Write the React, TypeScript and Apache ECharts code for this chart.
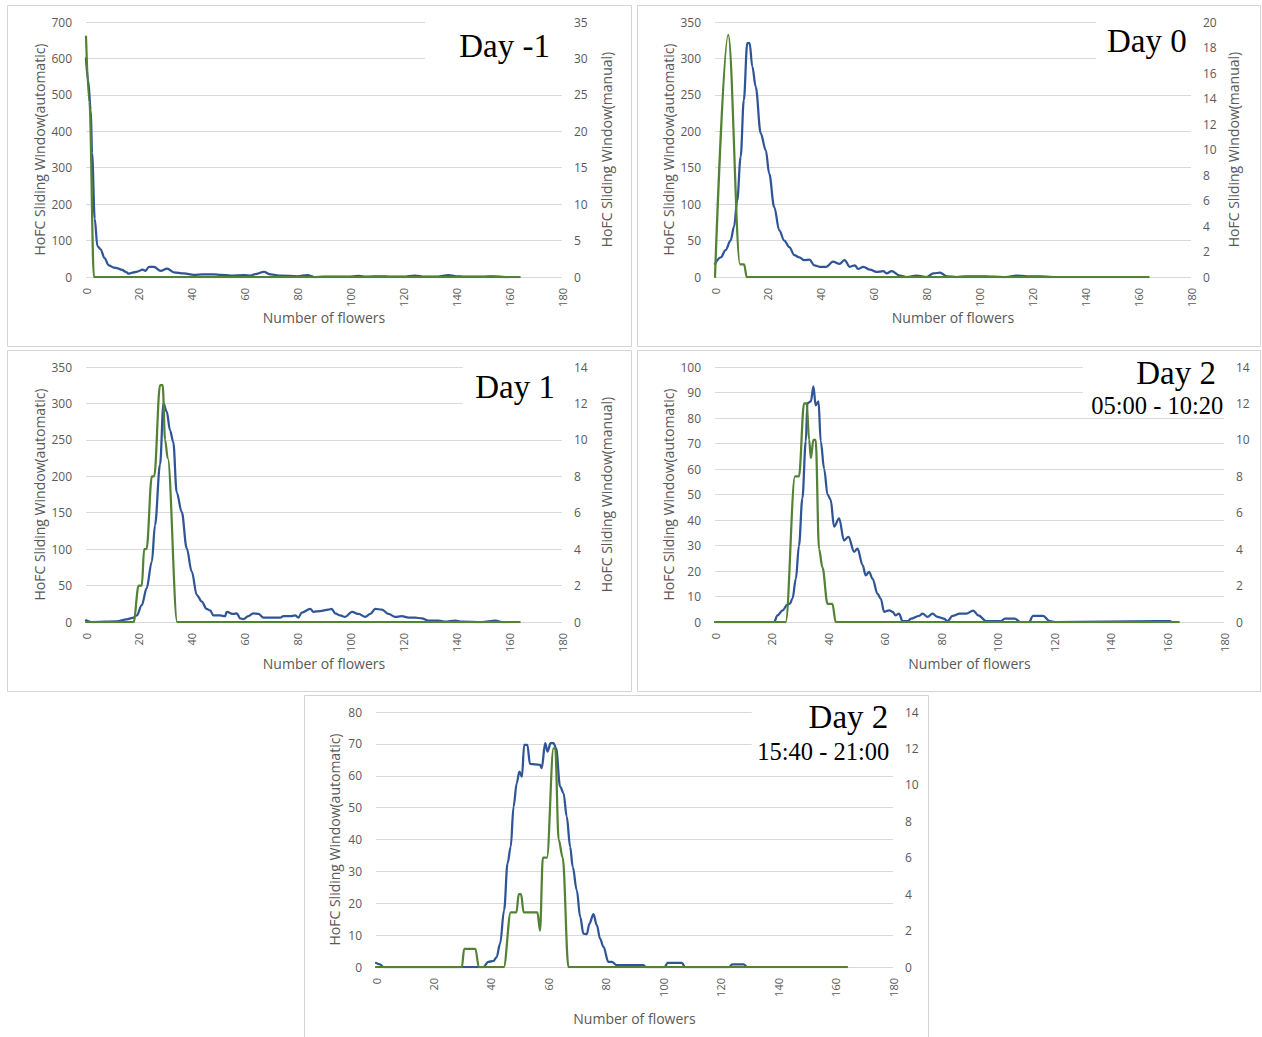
import React, { useEffect, useRef } from "react";
import * as echarts from "echarts";

type Pt = [number, number];

// ---------- DATA ----------
const panelTitles = ["Day -1", "Day 0", "Day 1", "Day 2", "Day 2"];
const panelSubtitles = ["", "", "", "05:00 - 10:20", "15:40 - 21:00"];
const leftMax = [700, 350, 350, 100, 80];
const leftStep = [100, 50, 50, 10, 10];
const rightMax = [35, 20, 14, 14, 14];
const rightStep = [5, 2, 2, 2, 2];
const xMax = 180;
const xStep = 20;
const autoName = "HoFC Sliding Window(automatic)";
const manualName = "HoFC Sliding Window(manual)";
const xName = "Number of flowers";

const dayM1Auto: Pt[] = [
  [0, 600], [0.8, 540], [1.8, 458], [2.3, 340], [3.3, 160], [4.3, 85], [5.5, 76], [7, 52], [8.6, 32],
  [10.5, 26], [12, 24], [13.4, 20], [15.4, 13], [16, 9], [17.6, 12], [19.4, 15], [21.4, 20], [22.5, 17],
  [23.8, 28], [25.7, 28], [28.2, 17], [30.7, 23], [33.2, 13], [37, 10], [40.8, 6], [44, 7], [48.4, 7],
  [51, 6], [54.7, 4], [59.8, 5], [62.3, 4], [64, 8], [67.3, 14], [69.8, 7], [73.6, 4], [80, 2], [83.8, 5],
  [86.3, 0], [90, 1], [99.2, 1], [103, 3], [106, 1], [111.8, 2], [115, 1], [120, 1], [124.4, 4], [128, 1],
  [133, 1], [137, 5], [140, 2], [143.3, 1], [150, 1], [154, 2], [158.5, 0], [160, 0],
];
const dayM1Manual: Pt[] = [[0, 33], [1.3, 24], [3, 0], [164, 0]];

const day0Auto: Pt[] = [
  [0, 18], [2.2, 27], [4, 37], [5.9, 50], [7.2, 69], [8.4, 105], [9.7, 165], [10.9, 243], [12.2, 321],
  [13.1, 321], [14.1, 289], [15.4, 261], [17.3, 197], [19.2, 174], [20.5, 142], [22.4, 96], [24.3, 64],
  [26.2, 50], [28.1, 41], [30, 30], [31.9, 27], [33.8, 23], [35.7, 24], [37.6, 16], [39.5, 14], [42.1, 14],
  [44.6, 21], [47.1, 18], [49, 23], [51, 14], [52.9, 16], [54.1, 11], [56.1, 14], [58.6, 10], [61.1, 7],
  [63.6, 8], [64.9, 5], [66.8, 8], [69.9, 2], [72.5, 0], [76.3, 2], [80, 0], [82.6, 5], [85.1, 6],
  [87.6, 1], [91.4, 0], [95, 1], [100, 1], [105, 0.5], [110, 0], [114, 2], [118, 1], [123, 1], [128, 0],
];
const day0Manual: Pt[] = [[0, 0], [5, 19], [9.5, 1], [11, 1], [12, 0], [164, 0]];

const day1Auto: Pt[] = [
  [0, 2.3], [2.1, 0], [11.6, 1], [15.4, 3.7], [17.6, 5.5], [19.2, 9], [21.1, 23], [22.9, 46], [24.9, 83],
  [26.1, 133], [28, 216], [29.3, 300], [30.5, 289], [31.8, 263], [33, 247], [34.3, 178], [36.2, 151],
  [38.1, 101], [40, 69], [41.9, 37], [43.8, 28], [45.6, 18], [46.9, 16], [48.2, 9], [50.7, 9], [52.6, 8],
  [53.2, 14], [55.7, 11], [57, 12], [58.3, 5], [59.5, 4], [61.4, 8], [63.3, 12], [65.2, 11], [67.1, 6],
  [70.9, 6], [73.4, 6], [74.7, 8], [77.2, 8], [79.1, 9], [80.3, 6], [81.6, 13], [84.8, 18], [86, 14],
  [88.5, 15], [91.7, 17], [92.9, 18], [94.2, 12], [96.1, 9], [98, 7], [100.6, 14], [103.1, 11], [105.6, 7],
  [107.5, 11], [109.4, 18], [111.9, 17], [114.4, 11], [116.9, 7], [119.4, 8], [122, 6], [124.5, 6],
  [127, 5], [129.5, 2], [133.3, 2], [135.8, 0.5], [139.6, 2], [142.1, 0.5], [149.7, 0], [154.8, 2],
  [157.3, 0], [159.8, 0],
];
const day1Manual: Pt[] = [
  [0, 0], [18, 0], [19.9, 2], [21.1, 2], [22, 4], [22.9, 4], [24.9, 8], [25.8, 8], [28, 13], [29, 13],
  [29.9, 10], [30.9, 9], [34.5, 0], [164, 0],
];

const day2aAuto: Pt[] = [
  [0, 0], [20.9, 0], [22.1, 2.6], [23.9, 4.6], [25.6, 6.8], [26.5, 7.2], [27.4, 9.2], [28.6, 17],
  [29.7, 30], [30.9, 48.5], [32.1, 70.8], [32.7, 85.8], [33.9, 86.5], [34.8, 92.4], [35.6, 85],
  [36.6, 86.5], [37.4, 70.8], [38.6, 60], [39.8, 50], [40.9, 48], [42.1, 37.4], [43.9, 40.6], [45.6, 32],
  [47.2, 33.4], [49.2, 27.5], [50.4, 28.8], [52.2, 22.3], [53.3, 18.3], [54.5, 19.7], [55.7, 17],
  [57.5, 11], [58.6, 9.2], [59.8, 4], [61.6, 4.6], [62.8, 4], [63.9, 2.6], [65.1, 3.3], [66.3, 0.3],
  [68.1, 0.3], [69.3, 1.3], [72.2, 2.4], [73.4, 3.3], [75.2, 2], [76.9, 3.3], [78.7, 2], [81, 1.3],
  [82.2, 0.3], [84, 2.4], [86.6, 3.3], [88.9, 3.3], [91.3, 4.5], [93.1, 2.6], [96, 0.3], [101, 0.3],
  [102.5, 1.3], [106, 1.3], [108, 0], [111, 0], [112.5, 2.4], [116, 2.4], [118.4, 0.3], [120.2, 0],
  [156.7, 0.3], [160.8, 0.3], [161.5, 0],
];
const day2aManual: Pt[] = [
  [0, 0], [25, 0], [28.3, 8], [29.7, 8], [31.5, 12], [32.4, 12], [33.3, 10], [33.9, 9], [34.8, 10],
  [35.6, 10], [36.8, 4], [38, 3], [39.8, 1], [41.5, 1], [42.7, 0], [164, 0],
];

const day2bAuto: Pt[] = [
  [0, 1.3], [1.4, 0.8], [2.6, 0], [37.4, 0], [39.1, 1.6], [40.9, 1.9], [42, 3.1], [43.2, 7.3], [44.6, 17.8],
  [45.8, 32.5], [46.9, 37.7], [47.9, 50.3], [49, 57.7], [49.9, 61.3], [50.8, 59.7], [51.6, 69.7],
  [52.7, 69.7], [53.6, 63.7], [57.1, 63.4], [57.7, 62.4], [58.9, 70.2], [59.7, 67.6], [60.8, 70.2],
  [61.8, 70.2], [62.7, 68.7], [64.1, 56.6], [65.3, 54.5], [66.4, 47.2], [67.6, 37.7], [68.5, 31.4],
  [69.9, 24.1], [71.1, 15.7], [72.2, 10.5], [73.4, 10.3], [74.3, 13.6], [75.7, 16.6], [76.9, 13.1],
  [78, 8.9], [79.2, 6.3], [80.9, 1.6], [82.1, 1.6], [83.8, 0.6], [93, 0.6], [94, 0], [100.5, 0],
  [101.5, 1.3], [106.5, 1.3], [107.6, 0], [123, 0], [124, 0.8], [128, 0.8], [129, 0],
];
const day2bManual: Pt[] = [
  [0, 0], [29.9, 0], [30.7, 1], [34.6, 1], [35.8, 0], [44.5, 0], [46.9, 3], [48.9, 3], [49.7, 4],
  [50.5, 4], [51.4, 3], [56.2, 3], [57.1, 2], [58.1, 6], [59.5, 6], [61.8, 12], [62.4, 12], [63.6, 7],
  [65, 6], [67, 0], [164, 0],
];

const autoSeries = [dayM1Auto, day0Auto, day1Auto, day2aAuto, day2bAuto];
const manualSeries = [dayM1Manual, day0Manual, day1Manual, day2aManual, day2bManual];

// ---------- LAYOUT ----------
const layout = [
  { box: [7.5, 5.5, 624, 341], grid: [86, 22, 476, 255], rightName: true, lGap: 40, rGap: 37, xGap: 33,
    tBox: [425, 12, 140, 56], title: [550, 45.5], sub: [0, 0] },
  { box: [637.5, 5.5, 623, 341], grid: [715, 22, 476, 255], rightName: true, lGap: 40, rGap: 35, xGap: 33,
    tBox: [1096, 12, 97, 56], title: [1186.7, 40.5], sub: [0, 0] },
  { box: [7.5, 350.5, 624, 341], grid: [86, 367, 476, 255], rightName: true, lGap: 40, rGap: 37, xGap: 34,
    tBox: [462.7, 357, 100, 60], title: [555, 387.1], sub: [0, 0] },
  { box: [637.5, 350.5, 623, 341], grid: [715, 367, 509, 255], rightName: false, lGap: 40, rGap: 0, xGap: 34,
    tBox: [1083, 357, 144, 57], title: [1216, 373.1], sub: [1223.3, 405] },
  { box: [304.5, 695.5, 624, 345], grid: [376, 712, 517, 255], rightName: false, lGap: 35, rGap: 0, xGap: 44,
    tBox: [751.7, 702, 142, 68], title: [888.3, 717.1], sub: [889.3, 751.7] },
];

const BLUE = "#2f5597";
const GREEN = "#548235";
const GRAY = "#595959";
const SANS = "'Open Sans', sans-serif";
const NARROW = "'Liberation Sans Narrow', 'Arial Narrow', 'Open Sans', sans-serif";
const SERIF = "'Liberation Serif', 'DejaVu Serif', serif";

function buildOption() {
  const grid: any[] = [];
  const xAxis: any[] = [];
  const yAxis: any[] = [];
  const series: any[] = [];
  const graphic: any[] = [];

  layout.forEach((p, i) => {
    grid.push({ left: p.grid[0], top: p.grid[1], width: p.grid[2], height: p.grid[3], containLabel: false });
    xAxis.push({
      type: "value", gridIndex: i, min: 0, max: xMax, interval: xStep,
      name: xName, nameLocation: "middle", nameGap: p.xGap,
      nameTextStyle: { color: GRAY, fontSize: 14, fontFamily: SANS },
      axisLine: { show: false }, axisTick: { show: false }, splitLine: { show: false },
      axisLabel: { rotate: 90, margin: 11, color: GRAY, fontSize: 11, fontFamily: NARROW },
    });
    yAxis.push({
      type: "value", gridIndex: i, position: "left", min: 0, max: leftMax[i], interval: leftStep[i],
      name: autoName, nameLocation: "middle", nameGap: p.lGap,
      nameTextStyle: { color: GRAY, fontSize: 14, fontFamily: SANS },
      axisLine: { show: false }, axisTick: { show: false },
      splitLine: { show: true, lineStyle: { color: "#d9d9d9", width: 1 } },
      axisLabel: { margin: 14, color: GRAY, fontSize: 12, fontFamily: SANS },
    });
    yAxis.push({
      type: "value", gridIndex: i, position: "right", min: 0, max: rightMax[i], interval: rightStep[i],
      name: p.rightName ? manualName : "", nameLocation: "middle", nameGap: p.rGap,
      nameTextStyle: { color: GRAY, fontSize: 14, fontFamily: SANS },
      axisLine: { show: false }, axisTick: { show: false }, splitLine: { show: false },
      axisLabel: { margin: 12, color: GRAY, fontSize: 12, fontFamily: SANS },
    });
    const common = {
      type: "line", xAxisIndex: i, showSymbol: false, symbol: "none",
      smooth: 0.35, smoothMonotone: "x", silent: true,
    };
    series.push({ ...common, name: `auto${i}`, yAxisIndex: 2 * i, data: autoSeries[i],
      lineStyle: { color: BLUE, width: 2.25, cap: "round", join: "round" }, itemStyle: { color: BLUE }, z: 2 });
    series.push({ ...common, name: `manual${i}`, yAxisIndex: 2 * i + 1, data: manualSeries[i],
      lineStyle: { color: GREEN, width: 2.25, cap: "round", join: "round" }, itemStyle: { color: GREEN }, z: 3 });

    graphic.push({
      type: "rect", z: 0, silent: true,
      shape: { x: p.box[0], y: p.box[1], width: p.box[2], height: p.box[3] },
      style: { fill: "none", stroke: "#d4d4d4", lineWidth: 1 },
    });
    graphic.push({
      type: "rect", z: 1, silent: true,
      shape: { x: p.tBox[0], y: p.tBox[1], width: p.tBox[2], height: p.tBox[3] },
      style: { fill: "#ffffff" },
    });
    graphic.push({
      type: "text", z: 10, silent: true, x: p.title[0], y: p.title[1],
      style: { text: panelTitles[i], fill: "#000", font: `33px ${SERIF}`, align: "right", verticalAlign: "middle" },
    });
    if (panelSubtitles[i]) {
      graphic.push({
        type: "text", z: 10, silent: true, x: p.sub[0], y: p.sub[1],
        style: { text: panelSubtitles[i], fill: "#000", font: `24.5px ${SERIF}`, align: "right", verticalAlign: "middle" },
      });
    }
  });

  return {
    animation: false,
    backgroundColor: "#ffffff",
    grid, xAxis, yAxis, series, graphic,
  };
}

export default function App() {
  const ref = useRef<HTMLDivElement>(null);
  useEffect(() => {
    if (!ref.current) return;
    const chart = echarts.init(ref.current, null, { renderer: "svg" });
    chart.setOption(buildOption() as any);
    return () => chart.dispose();
  }, []);
  return (
    <div
      ref={ref}
      style={{ position: "absolute", left: 0, top: 0, width: 1262, height: 1037, background: "#fff" }}
    />
  );
}
